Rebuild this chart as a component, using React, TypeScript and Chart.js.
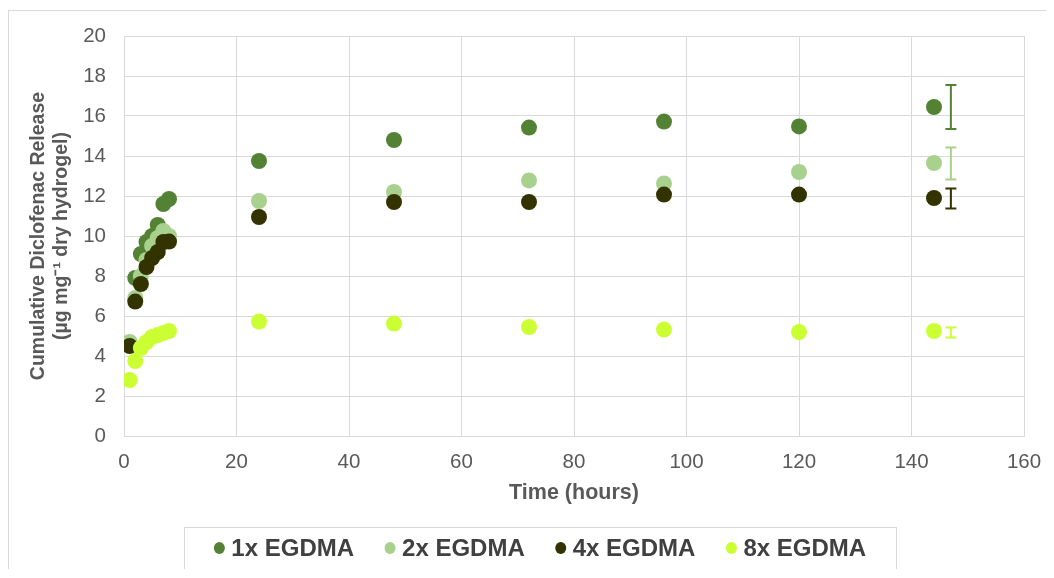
import React, { useEffect, useRef } from "react";
import { Chart, registerables } from "chart.js";

Chart.register(...registerables);

// ---- data ----
const timeHours = [1, 2, 3, 4, 5, 6, 7, 8, 24, 48, 72, 96, 120, 144];
const seriesLabels = ["1x EGDMA", "2x EGDMA", "4x EGDMA", "8x EGDMA"];
const release1x = [4.6, 7.9, 9.1, 9.7, 10.0, 10.55, 11.6, 11.85, 13.75, 14.8, 15.42, 15.72, 15.48, 16.45];
const release2x = [4.7, 6.9, 8.0, 8.8, 9.5, 9.9, 10.25, 10.0, 11.75, 12.2, 12.78, 12.63, 13.2, 13.65];
const release4x = [4.5, 6.72, 7.6, 8.45, 8.9, 9.2, 9.7, 9.72, 10.95, 11.7, 11.7, 12.07, 12.07, 11.9];
const release8x = [2.8, 3.75, 4.4, 4.7, 4.95, 5.05, 5.15, 5.25, 5.72, 5.62, 5.45, 5.32, 5.2, 5.25];
const errorBarTime = 147;
const errorCenters = [16.45, 13.63, 11.88, 5.18];
const errorHalfWidths = [1.1, 0.8, 0.5, 0.25];
const xTickMin = 0;
const xTickMax = 160;
const xTickStep = 20;
const yTickMin = 0;
const yTickMax = 20;
const yTickStep = 2;
const xTitle = "Time (hours)";
const yTitle = ["Cumulative Diclofenac Release", "(µg mg⁻¹ dry hydrogel)"];

const allSeries = [release1x, release2x, release4x, release8x];

// ---- styles ----
const seriesColors = ["#548235", "#A9D18E", "#333300", "#CCFF33"];
const FONT = '"Liberation Sans", Arial, Helvetica, sans-serif';
const GRID = "#d9d9d9";
const TEXT = "#595959";

const errorBarPlugin = {
  id: "errorBars",
  afterDatasetsDraw(chart: any) {
    const { ctx, scales } = chart;
    const xs = scales.x;
    const ys = scales.y;
    const cap = 5.5;
    errorCenters.forEach((c, i) => {
      const px = xs.getPixelForValue(errorBarTime);
      const top = ys.getPixelForValue(c + errorHalfWidths[i]);
      const bot = ys.getPixelForValue(c - errorHalfWidths[i]);
      ctx.save();
      ctx.strokeStyle = seriesColors[i];
      ctx.lineWidth = 2;
      ctx.beginPath();
      ctx.moveTo(px, top);
      ctx.lineTo(px, bot);
      ctx.moveTo(px - cap, top);
      ctx.lineTo(px + cap, top);
      ctx.moveTo(px - cap, bot);
      ctx.lineTo(px + cap, bot);
      ctx.stroke();
      ctx.restore();
    });
  },
};

const boxLegendPlugin = {
  id: "boxLegend",
  afterDraw(chart: any) {
    const { ctx } = chart;
    const boxW = 712;
    const boxH = 42;
    const boxCx = 531;
    const boxTop = 516;
    const midY = boxTop + boxH / 2;
    ctx.save();
    ctx.strokeStyle = GRID;
    ctx.lineWidth = 1;
    ctx.strokeRect(Math.round(boxCx - boxW / 2) + 0.5, boxTop + 0.5, boxW, boxH);
    ctx.font = `bold 24px ${FONT}`;
    const markerR = 5.5;
    const markerToText = 12;
    const gap = 36;
    const ds = chart.data.datasets;
    const widths = ds.map((d: any) => ctx.measureText(d.label).width);
    let total = markerR;
    widths.forEach((w: number, i: number) => {
      total += markerToText + w;
      if (i < widths.length - 1) total += gap;
    });
    let cx = boxCx - total / 2 + markerR;
    ds.forEach((d: any, i: number) => {
      ctx.fillStyle = d.backgroundColor;
      ctx.beginPath();
      ctx.ellipse(cx, midY, markerR, markerR + 0.5, 0, 0, Math.PI * 2);
      ctx.fill();
      ctx.fillStyle = "#404040";
      ctx.textBaseline = "middle";
      ctx.textAlign = "left";
      ctx.fillText(d.label, cx + markerToText, midY + 1);
      cx = cx + markerToText + widths[i] + gap;
    });
    ctx.restore();
  },
};

export default function App() {
  const canvasRef = useRef<HTMLCanvasElement | null>(null);

  useEffect(() => {
    if (!canvasRef.current) return;
    const datasets = allSeries.map((vals, i) => ({
      label: seriesLabels[i],
      data: timeHours.map((t, j) => ({ x: t, y: vals[j] })),
      backgroundColor: seriesColors[i],
      borderColor: seriesColors[i],
      borderWidth: 0,
      pointRadius: 8,
      pointHoverRadius: 8,
      order: allSeries.length - i,
    }));
    const chart = new Chart(canvasRef.current, {
      type: "scatter",
      data: { datasets },
      plugins: [errorBarPlugin, boxLegendPlugin],
      options: {
        animation: false,
        responsive: false,
        events: [],
        layout: { padding: { left: 0, top: 25, right: 25, bottom: 65 } },
        plugins: {
          legend: { display: false },
          tooltip: { enabled: false },
        },
        scales: {
          x: {
            type: "linear",
            min: xTickMin,
            max: xTickMax,
            afterFit: (s: any) => {
              s.height = 70;
              s.paddingLeft = 0;
              s.paddingRight = 0;
            },
            ticks: {
              stepSize: xTickStep,
              color: TEXT,
              padding: 14,
              font: { family: FONT, size: 20.5 },
              maxRotation: 0,
            },
            grid: { color: GRID, lineWidth: 1, drawTicks: false },
            border: { color: GRID, width: 1 },
            title: {
              display: true,
              text: xTitle,
              color: TEXT,
              font: { family: FONT, size: 21.5, weight: "bold", lineHeight: 1.2 },
              padding: { top: 0, bottom: 0 },
            },
          },
          y: {
            type: "linear",
            min: yTickMin,
            max: yTickMax,
            afterFit: (s: any) => {
              s.width = 115;
              s.paddingTop = 0;
              s.paddingBottom = 0;
            },
            ticks: {
              stepSize: yTickStep,
              color: TEXT,
              padding: 18,
              font: { family: FONT, size: 20.5 },
            },
            grid: { color: GRID, lineWidth: 1, drawTicks: false },
            border: { color: GRID, width: 1 },
            title: {
              display: true,
              text: yTitle,
              color: TEXT,
              font: { family: FONT, size: 19.5, weight: "bold", lineHeight: 1.18 },
              padding: { top: 18.5, bottom: 0 },
            },
          },
        },
      },
    } as any);
    return () => chart.destroy();
  }, []);

  return (
    <div
      style={{
        position: "relative",
        top: 2,
        width: 1040,
        height: 560,
        borderTop: "1px solid #d9d9d9",
        borderLeft: "1px solid #d9d9d9",
        background: "#fff",
      }}
    >
      <canvas ref={canvasRef} width={1040} height={560} style={{ display: "block" }} />
    </div>
  );
}
